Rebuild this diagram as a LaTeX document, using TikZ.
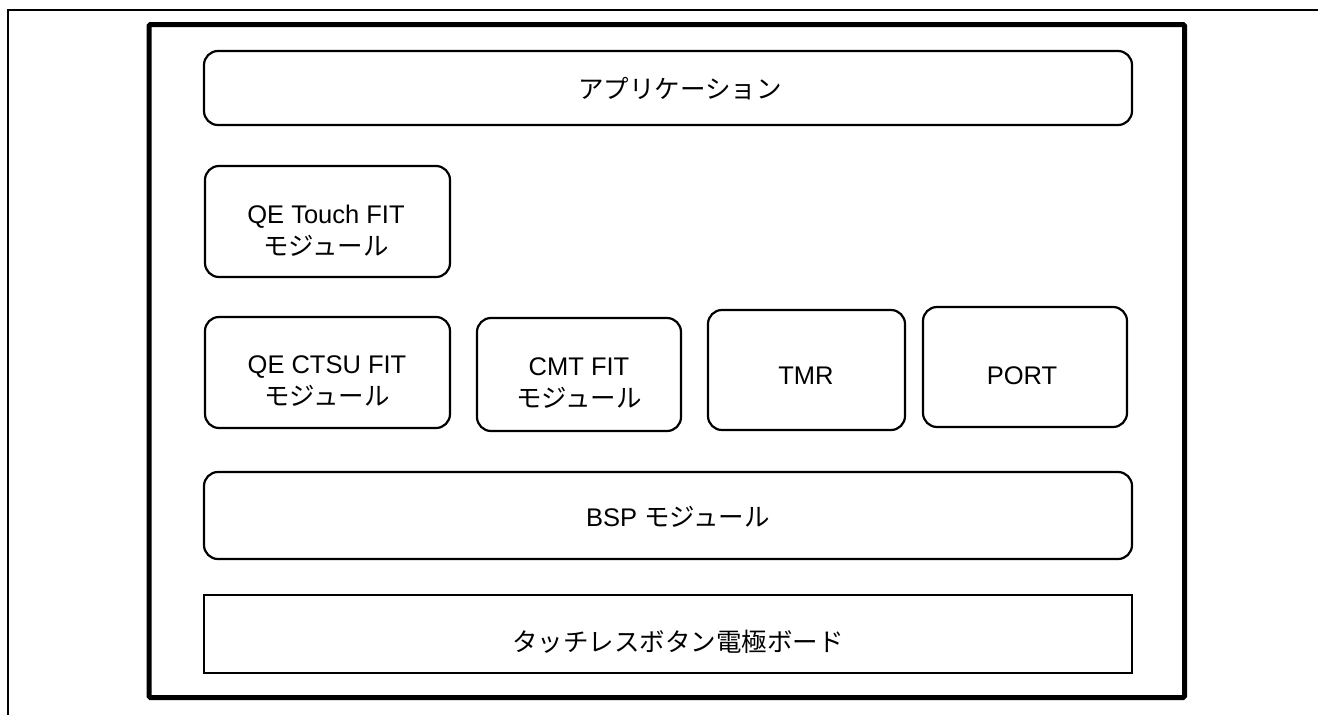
\documentclass[tikz,border=0pt]{standalone}
\usepackage{fontspec}
\setmainfont{Liberation Sans}
\newfontfamily\jp{Noto Sans CJK JP}
\begin{document}
\begin{tikzpicture}[x=1pt,y=-1pt,
  rbox/.style={draw=black, line width=2.2pt, rounded corners=14pt, inner sep=0pt, fill=white},
  sbox/.style={draw=black, line width=2.2pt, inner sep=0pt, fill=white},
  txt/.style={inner sep=0pt, align=center, font=\fontsize{25.5}{32}\selectfont},
  frame/.style={draw=black, line width=5pt, rounded corners=1.5pt},
  thinframe/.style={draw=black, line width=2pt}]
\useasboundingbox (0,0) rectangle (1318,715);
% outer thin frame lines
\coordinate (ftr) at (1318,9.5);
\coordinate (ftl) at (8.3,9.5);
\coordinate (fbl) at (8.3,715);
\draw[thinframe] (ftr) -- (ftl) -- (fbl);
% thick border
\coordinate (b1) at (149,24.5);
\coordinate (b2) at (1184.5,697.5);
\draw[frame] (b1) rectangle (b2);
% boxes
\node[rbox, minimum width=928pt, minimum height=74pt] (app) at (668,88) {};
\node[rbox, minimum width=245pt, minimum height=111pt] (touch) at (327.5,221.5) {};
\node[rbox, minimum width=245pt, minimum height=111pt] (ctsu) at (327.5,372.5) {};
\node[rbox, minimum width=204pt, minimum height=113pt] (cmt) at (579,374.5) {};
\node[rbox, minimum width=197pt, minimum height=120pt] (tmr) at (806.5,370) {};
\node[rbox, minimum width=204pt, minimum height=120pt] (port) at (1025,367) {};
\node[rbox, minimum width=928pt, minimum height=87pt] (bsp) at (668,515.5) {};
\node[sbox, minimum width=928pt, minimum height=78pt] (board) at (668,634) {};
% texts
\node[txt] (appt) at (680,89) {{\jp アプリケーション}};
\node[txt] (toucht) at (326,231) {QE Touch FIT\\{\jp モジュール}};
\node[txt] (ctsut) at (327,381) {QE CTSU FIT\\{\jp モジュール}};
\node[txt] (cmtt) at (579,383) {CMT FIT\\{\jp モジュール}};
\node[txt] (tmrt) at (806,376) {TMR};
\node[txt] (portt) at (1022,375.5) {PORT};
\node[txt] (bspt) at (678,517) {BSP {\jp モジュール}};
\node[txt] (boardt) at (678,642) {{\jp タッチレスボタン電極ボード}};
\end{tikzpicture}
\end{document}
